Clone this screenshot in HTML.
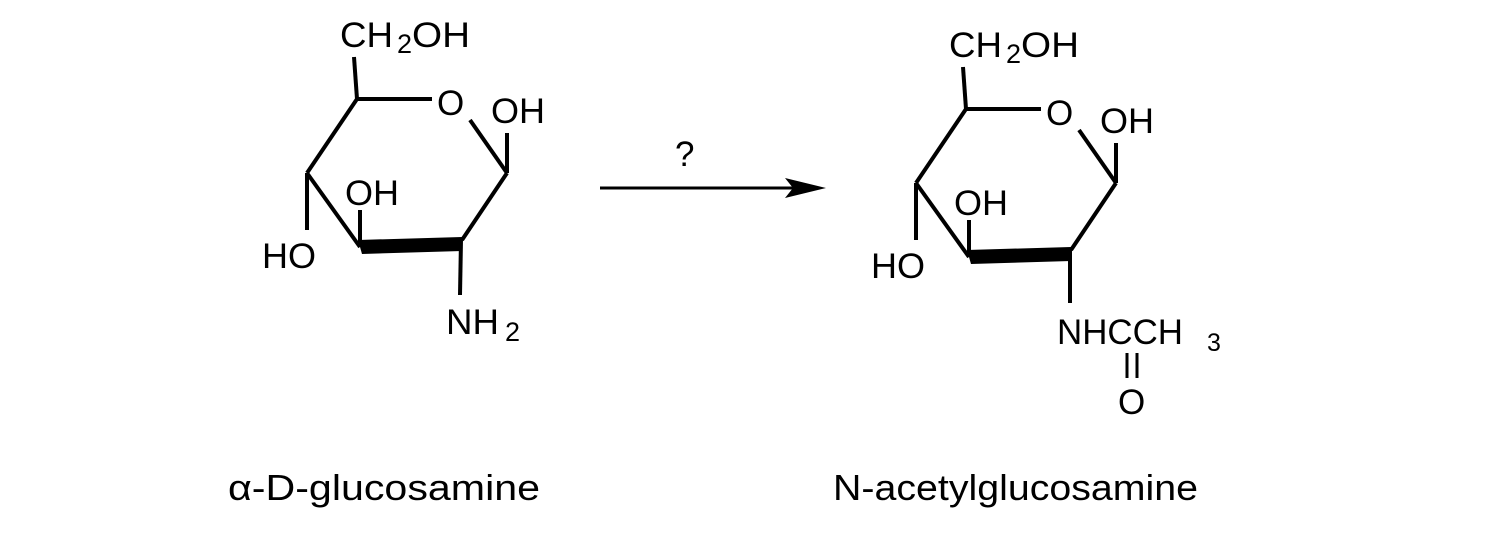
<!DOCTYPE html>
<html><head><style>
html,body{margin:0;padding:0;background:#fff;}
svg{display:block;}
text{font-family:"Liberation Sans",sans-serif;fill:#000;}
</style></head><body>
<svg width="1499" height="533" viewBox="0 0 1499 533" xmlns="http://www.w3.org/2000/svg">
<defs>
<g id="ring" stroke="#000" stroke-width="4" fill="none" stroke-linecap="butt">
  <line x1="357" y1="99" x2="354" y2="57"/>
  <line x1="357" y1="99" x2="432" y2="99"/>
  <line x1="470" y1="120" x2="507" y2="173"/>
  <line x1="507" y1="173" x2="507" y2="133"/>
  <line x1="507" y1="173" x2="462" y2="240"/>
  <line x1="360" y1="247" x2="360" y2="210"/>
  <line x1="360" y1="247" x2="307" y2="173"/>
  <line x1="307" y1="173" x2="307" y2="230"/>
  <line x1="307" y1="173" x2="357" y2="99"/>
  <polygon points="358,240 462,237 462,251 362,254" fill="#000" stroke="none"/>
</g>
</defs>
<use href="#ring"/>
<line x1="461" y1="240" x2="460" y2="295" stroke="#000" stroke-width="4"/>
<text x="340" y="47" font-size="35" textLength="53" lengthAdjust="spacingAndGlyphs">CH</text><text x="397" y="53" font-size="27">2</text><text x="412" y="47" font-size="35" textLength="58" lengthAdjust="spacingAndGlyphs">OH</text>
<text x="437" y="115" font-size="35">O</text>
<text x="491" y="123" font-size="35" textLength="54" lengthAdjust="spacingAndGlyphs">OH</text>
<text x="345" y="205" font-size="35" textLength="54" lengthAdjust="spacingAndGlyphs">OH</text>
<text x="262" y="268" font-size="35" textLength="54" lengthAdjust="spacingAndGlyphs">HO</text>
<text x="446" y="334" font-size="35" textLength="53" lengthAdjust="spacingAndGlyphs">NH</text><text x="505" y="341" font-size="27">2</text>

<line x1="600" y1="188" x2="795" y2="188" stroke="#000" stroke-width="3"/>
<polygon points="785,178 826,188 785,198 793,188" fill="#000"/>
<text x="675" y="166" font-size="35">?</text>

<g transform="translate(609,10)"><use href="#ring"/></g>
<line x1="1070" y1="250" x2="1070" y2="303" stroke="#000" stroke-width="4"/>
<text x="949" y="57" font-size="35" textLength="53" lengthAdjust="spacingAndGlyphs">CH</text><text x="1006" y="63" font-size="27">2</text><text x="1021" y="57" font-size="35" textLength="58" lengthAdjust="spacingAndGlyphs">OH</text>
<text x="1046" y="125" font-size="35">O</text>
<text x="1100" y="133" font-size="35" textLength="54" lengthAdjust="spacingAndGlyphs">OH</text>
<text x="954" y="215" font-size="35" textLength="54" lengthAdjust="spacingAndGlyphs">OH</text>
<text x="871" y="278" font-size="35" textLength="54" lengthAdjust="spacingAndGlyphs">HO</text>
<text x="1057" y="344" font-size="35" textLength="126" lengthAdjust="spacingAndGlyphs">NHCCH</text>
<text x="1207" y="351" font-size="25">3</text>
<line x1="1127" y1="353" x2="1127" y2="378" stroke="#000" stroke-width="3"/>
<line x1="1137" y1="353" x2="1137" y2="378" stroke="#000" stroke-width="3"/>
<text x="1118" y="414" font-size="35">O</text>

<text x="228" y="500" font-size="36" textLength="312" lengthAdjust="spacingAndGlyphs">α-D-glucosamine</text>
<text x="833" y="500" font-size="36" textLength="365" lengthAdjust="spacingAndGlyphs">N-acetylglucosamine</text>
</svg>
</body></html>
